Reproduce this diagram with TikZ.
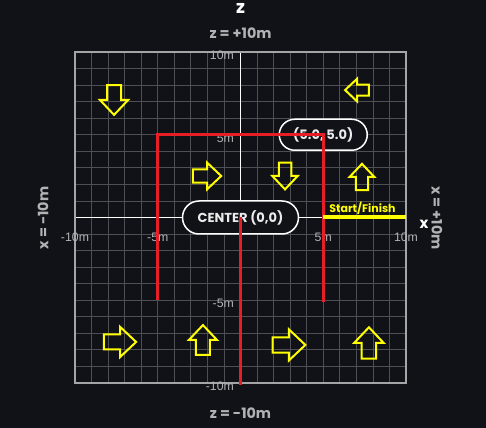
\documentclass[tikz,border=0pt]{standalone}
\usepackage{fontspec}
\setmainfont{Poppins}
\newfontfamily\tickfont{Liberation Sans}
\usetikzlibrary{shapes.misc}
\definecolor{bgdark}{RGB}{17,18,23}
\definecolor{gridgray}{RGB}{78,79,84}
\definecolor{boxgray}{RGB}{165,165,168}
\definecolor{labelgray}{RGB}{178,178,181}
\definecolor{trackred}{RGB}{232,30,38}
\definecolor{markyellow}{RGB}{255,255,0}

\begin{document}
\begin{tikzpicture}[x=16.55pt, y=16.55pt,
    tick/.style={font=\tickfont\fontsize{12.3}{14}\selectfont, text=labelgray, inner sep=0pt},
    title/.style={font=\bfseries\fontsize{14.3}{16}\selectfont, text=labelgray, inner sep=0pt},
    tag/.style={rounded rectangle, draw=white, line width=1.5pt, fill=bgdark, text=white!92!black,
      font=\bfseries\fontsize{13}{15}\selectfont, minimum height=33pt, inner sep=0pt},
    track/.style={trackred, line width=3pt},
    yarrow/.pic={\draw[markyellow, line width=2pt, line join=miter]
      (-0.9,-0.42) -- (0,-0.42) -- (0,-0.85) -- (0.9,0) -- (0,0.85) -- (0,0.42) -- (-0.9,0.42) -- cycle;}]
  \fill[bgdark] (-14.532,-12.719) rectangle (14.834,13.142);
  \useasboundingbox (-14.532,-12.719) rectangle (14.834,13.142);

  \draw[gridgray, line width=0.8pt, step=1] (-10,-10) grid (10,10);
  \draw[white, line width=0.9pt] (0,-10) -- (0,10);
  \draw[white, line width=0.9pt] (-10,0) -- (10,0);
  \draw[boxgray, line width=2pt] (-10,-10) rectangle (10,10);

  \foreach \v/\t in {-10/-10m, -5/-5m, 5/5m, 10/10m} {
    \node[tick] (xt\v) at (\v,-1.18) {\t};
    \node[tick, anchor=east] (zt\v) at (-0.39,\v-0.2) {\t};
  }

  \node[tag, minimum width=116pt] (origin) at (0,0) {CENTER (0,0)};
  \node[tag, minimum width=88pt, minimum height=31pt] (cornerNE) at (5,5) {(5.0, 5.0)};

  \draw[track] (-5,-5) -- (-5,5) -- (5,5) -- (5,-5.1);
  \draw[track] (origin.center) -- (0,-10.1);

  \draw[markyellow, line width=4pt] (5,0) -- (10,0);
  \node[font=\bfseries\fontsize{11}{13}\selectfont, text=markyellow, inner sep=0pt] (start) at (7.37,0.57) {Start/Finish};

  \foreach \px/\py/\ang/\sc in {-7.64/7.10/-90/1.0, 7.04/7.70/180/0.8, -2.02/2.51/0/0.95,
      2.69/2.51/-90/0.9, 7.34/2.45/90/0.88, -7.28/-7.52/0/1.08, -2.27/-7.40/90/1.0,
      2.93/-7.70/0/1.1, 7.76/-7.58/90/1.05}
    \pic[rotate=\ang, scale=\sc] at (\px,\py) {yarrow};

  \node[font=\bfseries\fontsize{18}{20}\selectfont, text=white, inner sep=0pt] (zaxis) at (0,12.6) {z};
  \node[title] (ztop) at (0,11.15) {z = +10m};
  \node[title] (zbot) at (0,-11.81) {z = -10m};
  \node[title, rotate=90] (xleft) at (-11.93,-0.03) {x = -10m};
  \node[title, rotate=-90] (xright) at (11.87,-0.03) {x = +10m};
  \node[font=\bfseries\fontsize{15}{17}\selectfont, text=white, inner sep=0pt] (xaxis) at (11.09,-0.39) {x};
\end{tikzpicture}
\end{document}
